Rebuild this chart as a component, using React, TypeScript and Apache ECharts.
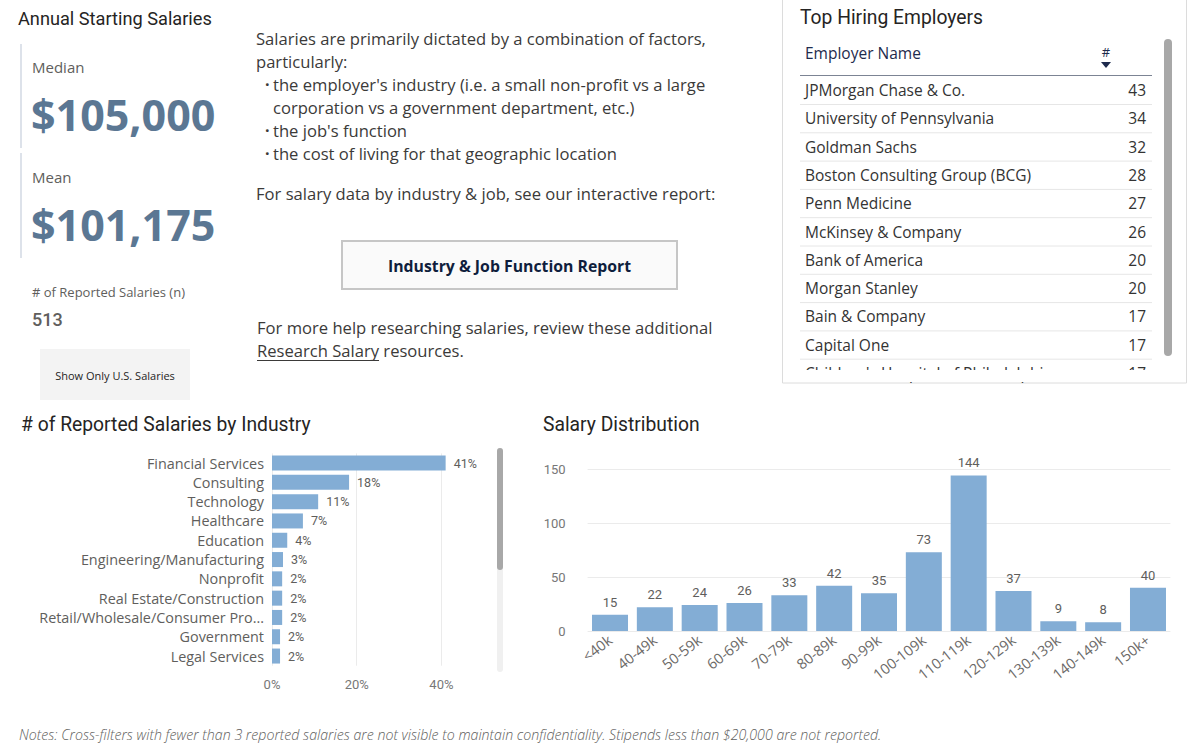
import React, { useEffect, useRef } from "react";
import * as echarts from "echarts";

const SEGOE = "'Open Sans', 'Noto Sans', sans-serif";
const DIN = "Roboto, 'Noto Sans', sans-serif";

const industryNames = [
  "Financial Services",
  "Consulting",
  "Technology",
  "Healthcare",
  "Education",
  "Engineering/Manufacturing",
  "Nonprofit",
  "Real Estate/Construction",
  "Retail/Wholesale/Consumer Pro...",
  "Government",
  "Legal Services",
];
const industryShare = [41, 18.2, 10.9, 7.3, 3.6, 2.6, 2.4, 2.4, 2.4, 1.9, 1.9];

const salaryBands = [
  "<40k", "40-49k", "50-59k", "60-69k", "70-79k", "80-89k", "90-99k",
  "100-109k", "110-119k", "120-129k", "130-139k", "140-149k", "150k+",
];
const salaryCounts = [15, 22, 24, 26, 33, 42, 35, 73, 144, 37, 9, 8, 40];

const employerNames = [
  "JPMorgan Chase & Co.",
  "University of Pennsylvania",
  "Goldman Sachs",
  "Boston Consulting Group (BCG)",
  "Penn Medicine",
  "McKinsey & Company",
  "Bank of America",
  "Morgan Stanley",
  "Bain & Company",
  "Capital One",
  "Children's Hospital of Philadelphia",
];
const employerCounts = [43, 34, 32, 28, 27, 26, 20, 20, 17, 17, 17];

const medianSalary = "$105,000";
const meanSalary = "$101,175";
const reportedCount = "513";

const introLines = [
  "Salaries are primarily dictated by a combination of factors,",
  "particularly:",
];
const bulletLines = [
  ["the employer's industry (i.e. a small non-profit vs a large", "corporation vs a government department, etc.)"],
  ["the job's function"],
  ["the cost of living for that geographic location"],
];

const BAR_COLOR = "#83add5";
const GREY = "#605e5c";
const BODY = 16.6;

function measure(text: string, font: string): number {
  const c = document.createElement("canvas").getContext("2d");
  if (!c) return text.length * 8;
  c.font = font;
  return c.measureText(text).width;
}

function T(text: string, x: number, y: number, style: any = {}) {
  return {
    type: "text",
    x,
    y,
    silent: true,
    style: {
      text,
      fill: "#252423",
      fontFamily: SEGOE,
      fontSize: BODY,
      textAlign: "left",
      textVerticalAlign: "middle",
      ...style,
    },
  };
}

function buildGraphics() {
  const g: any[] = [];
  // Left KPI block
  g.push(T("Annual Starting Salaries", 18, 18, { fontFamily: DIN, fontSize: 18.2, fill: "#252423" }));
  g.push({ type: "rect", shape: { x: 20, y: 44, width: 2, height: 104 }, style: { fill: "#dde2ea" }, silent: true });
  g.push({ type: "rect", shape: { x: 20, y: 153, width: 2, height: 105 }, style: { fill: "#dde2ea" }, silent: true });
  g.push(T("Median", 32, 67, { fill: GREY, fontSize: 15 }));
  g.push(T(medianSalary, 31, 114, { fill: "#5b7793", fontSize: 43, fontWeight: "bold" }));
  g.push(T("Mean", 32, 177, { fill: GREY, fontSize: 15 }));
  g.push(T(meanSalary, 31, 224, { fill: "#5b7793", fontSize: 43, fontWeight: "bold" }));
  g.push(T("# of Reported Salaries (n)", 32, 292, { fill: GREY, fontSize: 13 }));
  g.push(T(reportedCount, 32, 319, { fill: GREY, fontSize: 18, fontFamily: DIN, fontWeight: 500 }));
  g.push({ type: "rect", shape: { x: 40, y: 349, width: 150, height: 51 }, style: { fill: "#f3f3f3" }, silent: true });
  g.push(T("Show Only U.S. Salaries", 115, 375, { fill: "#252423", fontSize: 11, textAlign: "center" }));

  // Middle text block
  const lh = 23;
  let y = 38;
  for (const l of introLines) {
    g.push(T(l, 256, y, { fill: "#3b3a39" }));
    y += lh;
  }
  for (const b of bulletLines) {
    g.push(T("·", 265, y, { fill: "#3b3a39", fontWeight: "bold", fontSize: 16 }));
    for (const l of b) {
      g.push(T(l, 273, y, { fill: "#3b3a39" }));
      y += lh;
    }
  }
  g.push(T("For salary data by industry & job, see our interactive report:", 256, 193, { fill: "#3b3a39" }));
  g.push({
    type: "rect",
    shape: { x: 342, y: 241, width: 335, height: 48 },
    style: { fill: "#fafafa", stroke: "#c6c6c6", lineWidth: 2 },
    silent: true,
  });
  g.push(T("Industry & Job Function Report", 509.5, 266, { fill: "#0f1e3d", fontSize: 15.8, fontWeight: "bold", textAlign: "center" }));
  g.push(T("For more help researching salaries, review these additional", 257, 327, { fill: "#3b3a39" }));
  const linkText = "Research Salary";
  const linkW = measure(linkText, `${BODY}px 'Open Sans'`);
  g.push(T(linkText, 257, 350, { fill: "#3b3a39" }));
  g.push({ type: "line", shape: { x1: 257, y1: 360.5, x2: 257 + linkW, y2: 360.5 }, style: { stroke: "#3b3a39", lineWidth: 1 }, silent: true });
  g.push(T(" resources.", 257 + linkW, 350, { fill: "#3b3a39" }));

  // Employer table panel
  g.push({ type: "rect", shape: { x: 782.5, y: -3, width: 404, height: 386 }, style: { fill: "none", stroke: "#dcdcdc", lineWidth: 1 }, silent: true });
  g.push(T("Top Hiring Employers", 800, 17, { fontFamily: DIN, fontSize: 19.3, fill: "#252423" }));
  g.push(T("Employer Name", 805, 53, { fill: "#1e2b4d", fontSize: 15.5 }));
  g.push(T("#", 1106, 52, { fill: "#1e2b4d", fontSize: 13, textAlign: "center" }));
  g.push({ type: "polygon", shape: { points: [[1101, 62], [1111, 62], [1106, 68]] }, style: { fill: "#1e2b4d" }, silent: true });
  g.push({ type: "line", shape: { x1: 800, y1: 75.5, x2: 1152, y2: 75.5 }, style: { stroke: "#7c8494", lineWidth: 1 }, silent: true });
  const rowH = 28.3;
  employerNames.forEach((name, i) => {
    const ry = 90 + i * rowH;
    g.push(T(name, 805, ry, { fill: "#333333", fontSize: 15.5 }));
    g.push(T(String(employerCounts[i]), 1146, ry, { fill: "#333333", fontSize: 15.5, textAlign: "right" }));
    if (i < employerNames.length - 1) {
      g.push({ type: "line", shape: { x1: 800, y1: ry + 14.5, x2: 1152, y2: ry + 14.5 }, style: { stroke: "#e6e6e6", lineWidth: 1 }, silent: true });
    }
  });
  g.push({ type: "rect", shape: { x: 790, y: 370, width: 380, height: 12 }, style: { fill: "#ffffff" }, silent: true });
  g.push({ type: "rect", shape: { x: 1164, y: 39, width: 8, height: 317, r: 4 }, style: { fill: "#a8a8a8" }, silent: true });

  // Industry chart title and scrollbar
  g.push(T("# of Reported Salaries by Industry", 21, 424, { fontFamily: DIN, fontSize: 19.3, fill: "#252423" }));
  g.push({ type: "rect", shape: { x: 497, y: 448, width: 6, height: 224, r: 3 }, style: { fill: "#f0f0f0" }, silent: true });
  g.push({ type: "rect", shape: { x: 497, y: 448, width: 6, height: 122, r: 3 }, style: { fill: "#a8a8a8" }, silent: true });

  // Distribution title
  g.push(T("Salary Distribution", 543, 424, { fontFamily: DIN, fontSize: 19.3, fill: "#252423" }));

  // Notes
  g.push(T(
    "Notes: Cross-filters with fewer than 3 reported salaries are not visible to maintain confidentiality. Stipends less than $20,000 are not reported.",
    19, 734, { fill: GREY, fontSize: 14.2, fontStyle: "italic", fontWeight: 300 }
  ));
  return g;
}

export default function App() {
  const ref = useRef<HTMLDivElement>(null);
  useEffect(() => {
    if (!ref.current) return;
    const chart = echarts.init(ref.current, undefined, { renderer: "svg" });
    const option: any = {
      animation: false,
      backgroundColor: "#ffffff",
      textStyle: { fontFamily: SEGOE },
      grid: [
        { left: 272, top: 453.4, width: 169.4, height: 212.3 },
        { left: 587.6, top: 469, width: 582.8, height: 162 },
      ],
      xAxis: [
        {
          gridIndex: 0,
          type: "value",
          min: 0,
          max: 40,
          interval: 20,
          axisLabel: { formatter: "{value}%", color: "#777777", fontSize: 13, margin: 12, fontFamily: DIN },
          splitLine: { show: true, lineStyle: { color: "#ebebeb" } },
          axisLine: { show: false },
          axisTick: { show: false },
        },
        {
          gridIndex: 1,
          type: "category",
          data: salaryBands,
          axisLabel: { rotate: 38, color: "#6b6967", fontSize: 14.5, margin: 7, interval: 0, fontFamily: SEGOE },
          axisLine: { show: false },
          axisTick: { show: false },
        },
      ],
      yAxis: [
        {
          gridIndex: 0,
          type: "category",
          inverse: true,
          data: industryNames,
          axisLabel: { color: GREY, fontSize: 14.4, margin: 8 },
          axisLine: { show: false },
          axisTick: { show: false },
          splitLine: { show: false },
        },
        {
          gridIndex: 1,
          type: "value",
          min: 0,
          max: 150,
          interval: 50,
          axisLabel: { color: "#777777", fontSize: 13, margin: 22, fontFamily: DIN },
          splitLine: { show: true, lineStyle: { color: "#ebebeb" } },
          axisLine: { show: false },
          axisTick: { show: false },
        },
      ],
      series: [
        {
          type: "bar",
          xAxisIndex: 0,
          yAxisIndex: 0,
          data: industryShare,
          barWidth: 15,
          clip: false,
          itemStyle: { color: BAR_COLOR },
          label: {
            show: true,
            position: "right",
            distance: 8,
            color: GREY,
            fontSize: 12.5,
            fontFamily: DIN,
            formatter: (p: any) => `${Math.round(p.value)}%`,
          },
        },
        {
          type: "bar",
          xAxisIndex: 1,
          yAxisIndex: 1,
          data: salaryCounts,
          barWidth: 36,
          itemStyle: { color: BAR_COLOR },
          label: {
            show: true,
            position: "top",
            distance: 6,
            color: GREY,
            fontSize: 13,
            fontFamily: DIN,
          },
        },
      ],
      graphic: { elements: buildGraphics() },
    };
    chart.setOption(option);
    return () => chart.dispose();
  }, []);
  return (
    <div
      ref={ref}
      style={{ position: "fixed", left: 0, top: 0, width: 1196, height: 747, background: "#ffffff" }}
    />
  );
}
